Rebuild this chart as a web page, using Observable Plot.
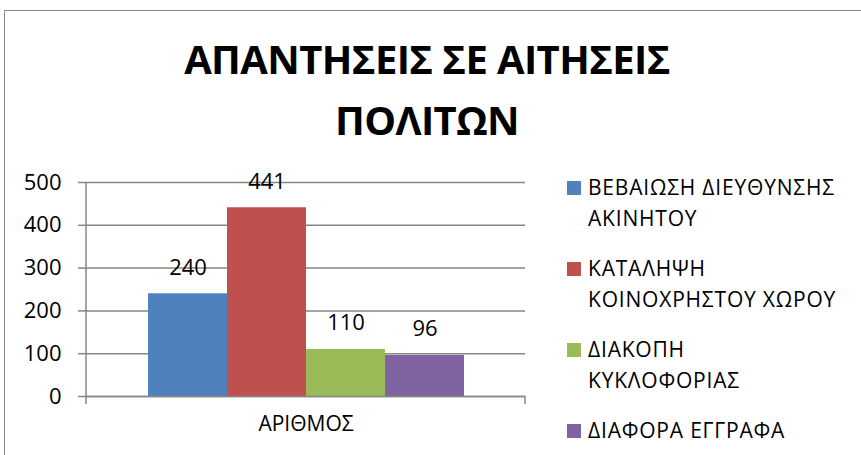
<!DOCTYPE html>
<html>
<head>
<meta charset="utf-8">
<script src="https://cdn.jsdelivr.net/npm/d3@7"></script>
<script src="https://cdn.jsdelivr.net/npm/@observablehq/plot@0.6"></script>
<style>
  html, body { margin: 0; padding: 0; background: #fff; }
  #wrap { position: relative; width: 861px; height: 455px; overflow: hidden; font-family: "Open Sans", sans-serif; }
  #border { position: absolute; left: 4px; top: 10px; width: 900px; height: 500px; border-left: 1.5px solid #8a8a8a; border-top: 1.5px solid #8a8a8a; }
  #title { position: absolute; left: 0; top: 28px; width: 854px; text-align: center; font-weight: 700; font-size: 40px; letter-spacing: -0.6px; line-height: 61px; color: #000; }
  #chart { position: absolute; left: 0; top: 0; }
  #legend { position: absolute; left: 567px; top: 172px; }
  .item { position: relative; height: 62px; margin-bottom: 19px; padding-left: 21px; font-size: 21px; letter-spacing: 0.8px; line-height: 31px; color: #000; white-space: nowrap; }
  .item .sw { position: absolute; left: 0; top: 9px; width: 14px; height: 14px; }
</style>
</head>
<body>
<div id="wrap">
  <div id="border"></div>
  <div id="chart"></div>
  <div id="title"></div>
  <div id="legend"></div>
</div>
<script>
const titleLines = ["ΑΠΑΝΤΗΣΕΙΣ ΣΕ ΑΙΤΗΣΕΙΣ", "ΠΟΛΙΤΩΝ"];
const category = "ΑΡΙΘΜΟΣ";
const series = ["ΒΕΒΑΙΩΣΗ ΔΙΕΥΘΥΝΣΗΣ ΑΚΙΝΗΤΟΥ", "ΚΑΤΑΛΗΨΗ ΚΟΙΝΟΧΡΗΣΤΟΥ ΧΩΡΟΥ", "ΔΙΑΚΟΠΗ ΚΥΚΛΟΦΟΡΙΑΣ", "ΔΙΑΦΟΡΑ ΕΓΓΡΑΦΑ"];
const legendLines = [["ΒΕΒΑΙΩΣΗ ΔΙΕΥΘΥΝΣΗΣ", "ΑΚΙΝΗΤΟΥ"], ["ΚΑΤΑΛΗΨΗ", "ΚΟΙΝΟΧΡΗΣΤΟΥ ΧΩΡΟΥ"], ["ΔΙΑΚΟΠΗ", "ΚΥΚΛΟΦΟΡΙΑΣ"], ["ΔΙΑΦΟΡΑ ΕΓΓΡΑΦΑ"]];
const values = [240, 441, 110, 96];
const colors = ["#4F81BD", "#C0504D", "#9BBB59", "#8064A2"];
const yTicks = [0, 100, 200, 300, 400, 500];

const data = series.map((s, i) => ({series: s, value: values[i]}));
const axisColor = "#868686";

// axis line on the left and end ticks of the category axis, computed from the frame
const axisFrame = (index, scales, vals, dim) => {
  const g = d3.create("svg:g").attr("stroke", axisColor).attr("stroke-width", 1.5);
  const x0 = dim.marginLeft, x1 = dim.width - dim.marginRight;
  const yb = dim.height - dim.marginBottom, yt = dim.marginTop;
  g.append("line").attr("x1", x0).attr("x2", x0).attr("y1", yt).attr("y2", yb + 8);
  g.append("line").attr("x1", x1).attr("x2", x1).attr("y1", yb).attr("y2", yb + 8);
  return g.node();
};

const chart = Plot.plot({
  width: 861,
  height: 455,
  marginLeft: 86,
  marginRight: 336,
  marginTop: 182,
  marginBottom: 59,
  style: {fontFamily: "Open Sans, sans-serif", fontSize: "21px", color: "#000", background: "transparent"},
  x: {domain: series, paddingInner: 0, paddingOuter: 0.75, axis: null},
  y: {domain: [0, 500], axis: null},
  color: {domain: series, range: colors},
  marks: [
    Plot.gridY(yTicks, {stroke: axisColor, strokeOpacity: 1, strokeWidth: 1.5}),
    Plot.axisY(yTicks, {tickSize: 8, tickPadding: 17, stroke: axisColor, strokeWidth: 1.5, fill: "#000", fontSize: 22, label: null, tickFormat: d => String(d)}),
    Plot.barY(data, {x: "series", y: "value", fill: "series", inset: 0}),
    Plot.ruleY([0], {stroke: axisColor, strokeWidth: 1.5}),
    axisFrame,
    Plot.text(data, {x: "series", y: "value", text: d => String(d.value), dy: -19, lineAnchor: "bottom", fontSize: 22, fill: "#000"}),
    Plot.text([category], {frameAnchor: "bottom", dy: 34, text: d => d, fontSize: 21, fill: "#000"})
  ]
});
document.getElementById("chart").appendChild(chart);

document.getElementById("title").innerHTML = titleLines.join("<br>");
const legend = d3.select("#legend");
legendLines.forEach((lines, i) => {
  const item = legend.append("div").attr("class", "item");
  item.append("div").attr("class", "sw").style("background", colors[i]);
  item.append("div").html(lines.join("<br>"));
});
</script>
</body>
</html>
